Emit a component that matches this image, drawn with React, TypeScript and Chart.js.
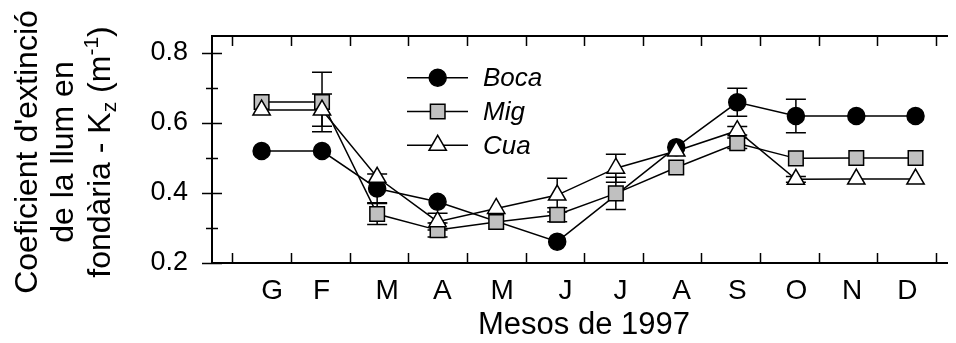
import React, { useEffect, useRef } from 'react';
import { Chart, registerables } from 'chart.js';
import { drawPoint } from 'chart.js/helpers';

Chart.register(...registerables);

// Month labels (Catalan initials) and where they sit on the month axis
const monthLabels = ['G', 'F', 'M', 'A', 'M', 'J', 'J', 'A', 'S', 'O', 'N', 'D'];
const monthLabelAt = [0.68, 1.52, 2.64, 3.58, 4.6, 5.68, 6.62, 7.66, 8.61, 9.62, 10.57, 11.51];
const monthBoundaries = [0, 1, 2, 3, 4, 5, 6, 7, 8, 9, 10, 11, 12];

// Sampling date of each survey, in months from 1 January 1997
const sampleMonth = [0.5, 1.53, 2.47, 3.5, 4.5, 5.54, 6.54, 7.57, 8.61, 9.61, 10.64, 11.65];

// Light extinction coefficient Kz (m^-1) per zone, with standard error
const boca = [0.52, 0.52, 0.413, 0.375, null, 0.261, null, 0.531, 0.659, 0.62, 0.62, 0.62];
const bocaErr = [0, 0, 0.041, 0, 0, 0, 0, 0, 0.04, 0.048, 0, 0];
const mig = [0.66, 0.66, 0.34, 0.294, 0.317, 0.338, 0.399, 0.473, 0.542, 0.499, 0.5, 0.5];
const migErr = [0, 0.085, 0.03, 0.02, 0, 0.02, 0.046, 0, 0.015, 0, 0, 0];
const cua = [0.637, 0.637, 0.445, 0.318, 0.356, 0.394, 0.471, 0.52, 0.578, 0.439, 0.44, 0.44];
const cuaErr = [0, 0.046, 0, 0.024, 0, 0.048, 0.04, 0, 0.012, 0.008, 0, 0];

const yTicks = [0.2, 0.4, 0.6, 0.8];
const yMinorTicks = [0.3, 0.5, 0.7];

const FONT = "'Liberation Sans', Arial, Helvetica, sans-serif";

const series = [
  { label: 'Boca', values: boca, errors: bocaErr, style: 'circle', radius: 8.5, fill: '#000000', order: 2 },
  { label: 'Mig', values: mig, errors: migErr, style: 'rect', radius: 10.3, fill: '#c0c0c0', order: 1 },
  { label: 'Cua', values: cua, errors: cuaErr, style: 'triangle', radius: 10, fill: '#ffffff', order: 0 },
];

const noPadding = (scale: any) => {
  scale.paddingTop = 0;
  scale.paddingBottom = 0;
  scale.paddingLeft = 0;
  scale.paddingRight = 0;
};

const errorBars = {
  id: 'errorBars',
  beforeDatasetsDraw(chart: any) {
    const { ctx, scales } = chart;
    const xs = scales.x;
    const ys = scales.y;
    ctx.save();
    ctx.strokeStyle = '#000';
    ctx.lineWidth = 1.5;
    series.forEach((s) => {
      s.values.forEach((v, i) => {
        const e = s.errors[i];
        if (v == null || !e) return;
        const x = xs.getPixelForValue(sampleMonth[i]);
        const yt = ys.getPixelForValue(v + e);
        const yb = ys.getPixelForValue(v - e);
        ctx.beginPath();
        ctx.moveTo(x, yt);
        ctx.lineTo(x, yb);
        ctx.moveTo(x - 10, yt);
        ctx.lineTo(x + 10, yt);
        ctx.moveTo(x - 10, yb);
        ctx.lineTo(x + 10, yb);
        ctx.stroke();
      });
    });
    ctx.restore();
  },
};

const axisDecor = {
  id: 'axisDecor',
  afterDraw(chart: any) {
    const { ctx, chartArea: ca, scales } = chart;
    const xs = scales.x;
    const ys = scales.y;
    ctx.save();
    ctx.strokeStyle = '#000';
    ctx.lineWidth = 1.5;
    ctx.beginPath();
    monthBoundaries.forEach((m) => {
      const x = Math.round(xs.getPixelForValue(m)) + 0.5;
      ctx.moveTo(x, ca.bottom);
      ctx.lineTo(x, ca.bottom - 10);
      ctx.moveTo(x, ca.top);
      ctx.lineTo(x, ca.top + 10);
    });
    yTicks.forEach((v) => {
      const y = Math.round(ys.getPixelForValue(v)) + 0.5;
      ctx.moveTo(ca.left - 10, y);
      ctx.lineTo(ca.left + 10, y);
    });
    yMinorTicks.forEach((v) => {
      const y = Math.round(ys.getPixelForValue(v)) + 0.5;
      ctx.moveTo(ca.left - 6, y);
      ctx.lineTo(ca.left + 6, y);
    });
    ctx.stroke();

    // Legend: line with marker, italic label
    series.forEach((s, i) => {
      const y = ca.top + 41.7 + i * 33.8;
      ctx.strokeStyle = '#000';
      ctx.lineWidth = 1.5;
      ctx.beginPath();
      ctx.moveTo(ca.left + 195, y);
      ctx.lineTo(ca.left + 256, y);
      ctx.stroke();
      ctx.fillStyle = s.fill;
      ctx.lineWidth = 1.5;
      drawPoint(ctx, { pointStyle: s.style, rotation: 0, radius: s.radius, borderWidth: 1.5 }, ca.left + 225.7, y);
      ctx.fillStyle = '#000';
      ctx.font = `italic 26px ${FONT}`;
      ctx.textBaseline = 'middle';
      ctx.textAlign = 'left';
      ctx.fillText(s.label, ca.left + 271, y + 1);
    });

    // Y axis title, three rotated lines with subscript and superscript
    const cy = (ca.top + ca.bottom) / 2 + 2.5;
    ctx.translate(0, cy);
    ctx.rotate(-Math.PI / 2);
    ctx.fillStyle = '#000';
    ctx.textBaseline = 'alphabetic';
    ctx.textAlign = 'left';
    const big = `32px ${FONT}`;
    const small = `21px ${FONT}`;
    const centred = (text: string, base: number) => {
      ctx.font = big;
      const w = ctx.measureText(text).width;
      ctx.fillText(text, -w / 2, base);
    };
    centred("Coeficient d'extinció", 29);
    centred('de la llum en', 65.3);
    const parts = [
      { t: 'fondària - K', f: big, dy: 0 },
      { t: 'z', f: small, dy: 6 },
      { t: ' (m', f: big, dy: 0 },
      { t: '-1', f: small, dy: -12 },
      { t: ')', f: big, dy: 0 },
    ];
    let total = 0;
    parts.forEach((p) => {
      ctx.font = p.f;
      total += ctx.measureText(p.t).width;
    });
    let px = -total / 2;
    parts.forEach((p) => {
      ctx.font = p.f;
      ctx.fillText(p.t, px, 102 + p.dy);
      px += ctx.measureText(p.t).width;
    });
    ctx.restore();
  },
};

export default function App() {
  const ref = useRef<HTMLCanvasElement | null>(null);

  useEffect(() => {
    if (!ref.current) return;
    Chart.defaults.font.family = FONT;
    Chart.defaults.color = '#000';
    const chart = new Chart(ref.current, {
      type: 'line',
      data: {
        datasets: series.map((s) => ({
          label: s.label,
          data: sampleMonth.map((m, i) => ({ x: m, y: s.values[i] })),
          borderColor: '#000',
          borderWidth: 1.5,
          backgroundColor: s.fill,
          pointStyle: s.style,
          pointRadius: s.radius,
          pointBackgroundColor: s.fill,
          pointBorderColor: '#000',
          pointBorderWidth: 1.5,
          spanGaps: true,
          tension: 0,
          fill: false,
          order: s.order,
        })),
      },
      options: {
        animation: false,
        responsive: false,
        devicePixelRatio: 1,
        layout: { padding: 0, autoPadding: false },
        plugins: { legend: { display: false }, tooltip: { enabled: false } },
        scales: {
          x: {
            type: 'linear',
            position: 'bottom',
            min: -0.346,
            max: 12.34,
            afterBuildTicks: (scale: any) => {
              scale.ticks = monthLabelAt.map((v) => ({ value: v }));
            },
            afterFit: (scale: any) => {
              scale.height = 80;
              noPadding(scale);
            },
            ticks: {
              autoSkip: false,
              maxRotation: 0,
              padding: 11,
              font: { size: 28 },
              color: '#000',
              callback: (_v: any, i: number) => monthLabels[i],
            },
            grid: { display: false, drawTicks: false },
            border: { display: true, color: '#000', width: 2 },
            title: {
              display: true,
              text: 'Mesos de 1997',
              color: '#000',
              font: { size: 31, lineHeight: 1 },
              padding: { top: 0, bottom: 2 },
            },
          },
          xTop: {
            type: 'linear',
            position: 'top',
            min: -0.346,
            max: 12.34,
            afterFit: (scale: any) => {
              scale.height = 28;
              noPadding(scale);
            },
            ticks: { display: false },
            grid: { display: false, drawTicks: false },
            border: { display: true, color: '#000', width: 2 },
          },
          y: {
            type: 'linear',
            position: 'left',
            min: 0.2,
            max: 0.8486,
            afterBuildTicks: (scale: any) => {
              scale.ticks = yTicks.map((v) => ({ value: v }));
            },
            afterFit: (scale: any) => {
              scale.width = 204;
              noPadding(scale);
            },
            ticks: {
              padding: 24,
              font: { size: 27 },
              color: '#000',
              callback: (v: any) => Number(v).toFixed(1),
            },
            grid: { display: false, drawTicks: false },
            border: { display: true, color: '#000', width: 2 },
          },
        },
      },
      plugins: [errorBars, axisDecor],
    } as any);
    return () => chart.destroy();
  }, []);

  return (
    <div style={{ width: 948, height: 335 }}>
      <canvas ref={ref} width={948} height={335} style={{ display: 'block' }} />
    </div>
  );
}
